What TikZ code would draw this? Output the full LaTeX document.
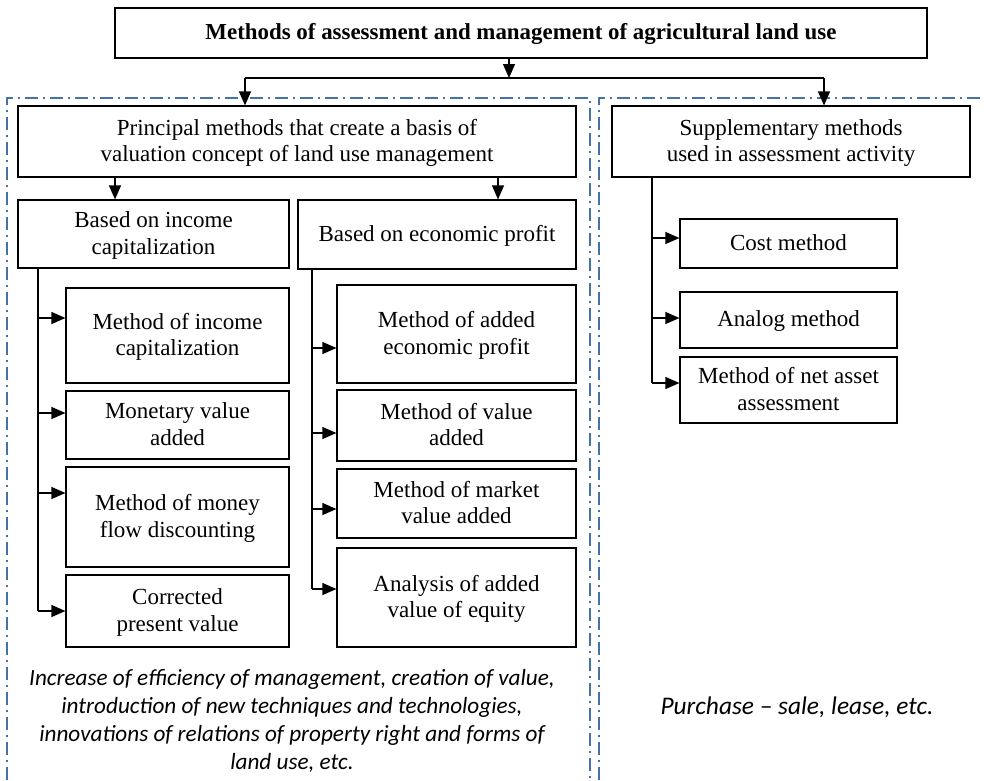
\documentclass[tikz,border=0pt]{standalone}
\usepackage{fontspec}
\setmainfont{Liberation Serif}
\newfontfamily\notefont{Carlito}
\usetikzlibrary{arrows.meta}
\definecolor{framecol}{RGB}{70,115,165}
\newcommand\bxs{\rule[-5pt]{0pt}{23.5pt}}
\tikzset{
  box/.style={draw, line width=1.2pt, rectangle, inner sep=0pt, align=center,
    font=\fontsize{23}{26.5}\selectfont},
  arr/.style={line width=1.2pt, -{Triangle[length=14pt,width=12pt]}},
  ln/.style={line width=1.2pt},
  frameline/.style={draw=framecol, line width=1.5pt, dash pattern=on 13pt off 5pt on 2pt off 5pt},
  note/.style={align=center, font=\notefont\itshape\fontsize{23.2}{28}\selectfont, inner sep=0pt}
}
\begin{document}
\begin{tikzpicture}[x=1pt,y=-1pt]
\useasboundingbox (0,0) rectangle (984,780);
\clip (0,0) rectangle (984,780);
% frames
\draw[frameline] (7,830) -- (7,98) -- (590,98) -- (590,830);
\draw[frameline] (599,830) -- (599,98) -- (1000,98);

% nodes
\node[box, minimum width=812pt, minimum height=50pt, font=\bfseries\fontsize{22.9}{26}\selectfont] (title) at (521,33) {\bxs Methods of assessment and management of agricultural land use};
\node[box, minimum width=558pt, minimum height=71pt] (principal) at (297,141.5) {\bxs Principal methods that create a basis of\\\bxs valuation concept of land use management};
\node[box, minimum width=358pt, minimum height=71pt] (supp) at (791,141.5) {\bxs Supplementary methods\\\bxs used in assessment activity};
\node[box, minimum width=271pt, minimum height=68pt] (income) at (153.5,234) {\bxs Based on income\\\bxs capitalization};
\node[box, minimum width=278pt, minimum height=69pt] (econ) at (437,234.5) {\bxs Based on economic profit};

\node[box, minimum width=223pt, minimum height=95pt] (L1) at (177.5,335.5) {\bxs Method of income\\\bxs capitalization};
\node[box, minimum width=223pt, minimum height=68pt] (L2) at (177.5,425) {\bxs Monetary value\\\bxs added};
\node[box, minimum width=223pt, minimum height=100pt] (L3) at (177.5,517) {\bxs Method of money\\\bxs flow discounting};
\node[box, minimum width=223pt, minimum height=72pt] (L4) at (177.5,611) {\bxs Corrected\\\bxs present value};

\node[box, minimum width=239pt, minimum height=98pt] (R1) at (456.5,334) {\bxs Method of added\\\bxs economic profit};
\node[box, minimum width=239pt, minimum height=71pt] (R2) at (456.5,425.5) {\bxs Method of value\\\bxs added};
\node[box, minimum width=239pt, minimum height=69pt] (R3) at (456.5,503.5) {\bxs Method of market\\\bxs value added};
\node[box, minimum width=239pt, minimum height=99pt] (R4) at (456.5,597.5) {\bxs Analysis of added\\\bxs value of equity};

\node[box, minimum width=217pt, minimum height=49pt] (S1) at (788.5,243.5) {\bxs Cost method};
\node[box, minimum width=217pt, minimum height=56pt] (S2) at (788.5,320) {\bxs Analog method};
\node[box, minimum width=217pt, minimum height=66pt] (S3) at (788.5,390) {\bxs Method of net asset\\\bxs assessment};

\node[note] (n1) at (292,721) {Increase of efficiency of management, creation of value,\\introduction of new techniques and technologies,\\innovations of relations of property right and forms of\\land use, etc.};
\node[note, font=\notefont\itshape\fontsize{25.4}{30}\selectfont] (n2) at (797,707) {Purchase – sale, lease, etc.};

% top connectors
\coordinate (j) at (509,78);
\coordinate (jl) at (245,78);
\coordinate (jr) at (824,78);
\draw[arr] (title.south -| j) -- (j);
\draw[ln] (jl) -- (jr);
\draw[arr] (jl) -- (jl |- principal.north);
\draw[arr] (jr) -- (jr |- supp.north);

% principal to sub groups
\coordinate (pl) at (115,177);
\coordinate (pr) at (498,177);
\draw[arr] (pl) -- (pl |- income.north);
\draw[arr] (pr) -- (pr |- econ.north);

% left column
\coordinate (ltop) at (38,268);
\coordinate (l1) at (38,318);
\coordinate (l2) at (38,413);
\coordinate (l3) at (38,493);
\coordinate (l4) at (38,611);
\draw[ln] (ltop) -- (l4);
\draw[arr] (l1) -- (l1 -| L1.west);
\draw[arr] (l2) -- (l2 -| L2.west);
\draw[arr] (l3) -- (l3 -| L3.west);
\draw[arr] (l4) -- (l4 -| L4.west);

% right column
\coordinate (rtop) at (312,269);
\coordinate (r1) at (312,348);
\coordinate (r2) at (312,433);
\coordinate (r3) at (312,509);
\coordinate (r4) at (312,589);
\draw[ln] (rtop) -- (r4);
\draw[arr] (r1) -- (r1 -| R1.west);
\draw[arr] (r2) -- (r2 -| R2.west);
\draw[arr] (r3) -- (r3 -| R3.west);
\draw[arr] (r4) -- (r4 -| R4.west);

% supplementary column
\coordinate (stop) at (652,177);
\coordinate (s1) at (652,238);
\coordinate (s2) at (652,318);
\coordinate (s3) at (652,383);
\draw[ln] (stop) -- (s3);
\draw[arr] (s1) -- (s1 -| S1.west);
\draw[arr] (s2) -- (s2 -| S2.west);
\draw[arr] (s3) -- (s3 -| S3.west);
\end{tikzpicture}
\end{document}
